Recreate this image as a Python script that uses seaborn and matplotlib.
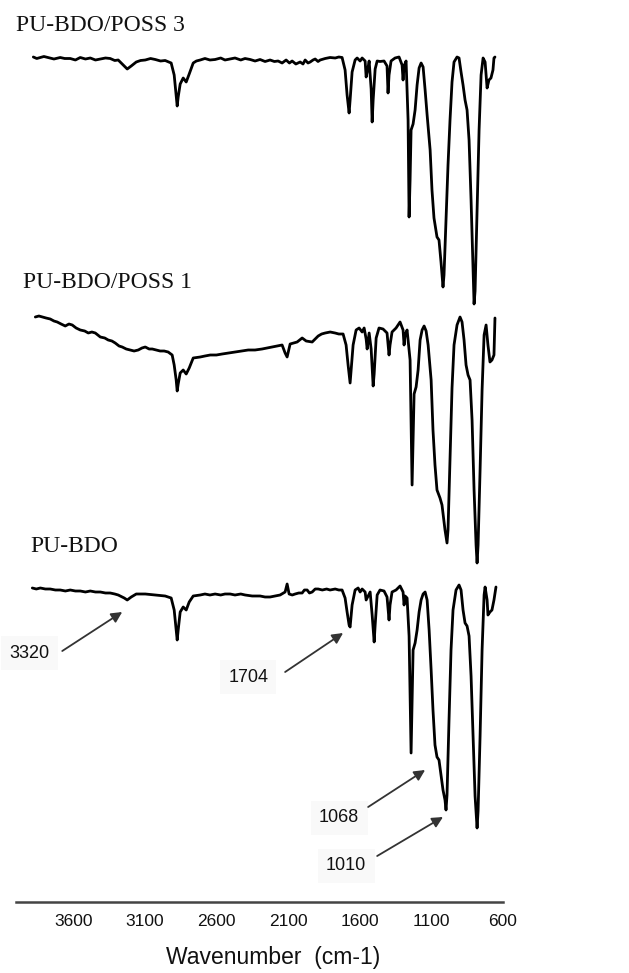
import numpy as np
import pandas as pd
import matplotlib
matplotlib.use("Agg")
import matplotlib.pyplot as plt
import seaborn as sns

# ---------------- data ----------------
# PU-BDO/POSS 3 : wavenumber (cm-1) and relative transmittance (%)
wn_poss3 = [3879, 3855, 3830, 3805, 3761, 3735, 3691, 3660, 3621, 3585, 3551, 3515, 3481, 3445,
            3411, 3375, 3342, 3310, 3286, 3251, 3223, 3195, 3160, 3130, 3097, 3060, 3027, 2990,
            2958, 2916, 2895, 2881, 2874, 2867, 2853, 2832, 2811, 2790, 2762, 2740, 2713, 2680,
            2645, 2609, 2570, 2540, 2504, 2470, 2430, 2400, 2364, 2330, 2295, 2260, 2225, 2195,
            2169, 2141, 2113, 2090, 2071, 2045, 2015, 1995, 1980, 1960, 1945, 1925, 1910, 1890,
            1875, 1840, 1806, 1770, 1745, 1722,
            1701, 1687, 1673, 1666, 1652, 1631, 1617, 1596, 1582, 1561, 1554, 1540, 1533,
            1519, 1512, 1505, 1491, 1477, 1457, 1429, 1408, 1401, 1394, 1380, 1352, 1324, 1303,
            1296, 1289, 1275, 1261, 1254, 1247, 1240, 1226, 1212, 1198, 1184, 1170, 1156, 1142,
            1128, 1107, 1094, 1080, 1059, 1045, 1031, 1017, 1010, 996, 982, 968, 954, 940, 919,
            905, 891, 877, 863, 849, 835, 821, 807, 800, 793, 779, 765, 751, 737, 723, 709, 696,
            682, 668, 661, 654]
t_poss3 = [100, 99.4, 99.8, 100.2, 99.6, 99.2, 99.8, 99.4, 99.4, 98.8, 99.8, 99.2, 99.6, 98.8,
           99.2, 99.6, 99.4, 98.6, 98.8, 96.8, 95.2, 96.4, 98, 98.6, 98.8, 99.4, 99, 98.4,
           98.6, 97.6, 92.8, 84.4, 80.4, 84, 89.2, 91.6, 90, 93.2, 97.6, 98.4, 98.8, 99.4,
           98.8, 99, 99.6, 98.8, 99.2, 99.6, 98.8, 99.4, 99, 98.4, 99, 98.2, 98.8, 98.2,
           98.4, 97.6, 98.8, 97.6, 98.4, 97.2, 98, 97.2, 98.8, 97.6, 98, 98.8, 99.2, 98.2,
           98.8, 99.4, 99.8, 99.6, 100, 99.8,
           94.8, 84.8, 77.6, 82.8, 94, 98.8, 99.6, 98.4, 99.6, 98.4, 92, 96, 98.4,
           87.2, 74, 82.8, 95.2, 98.4, 98.2, 98.4, 96.4, 85.6, 92.8, 98.4, 99.6, 100, 96.8,
           90.8, 96.4, 98.4, 74.8, 36, 50.8, 70.8, 73.2, 78.8, 88.8, 95.6, 97.6, 96, 86.8,
           76.8, 62.8, 46.8, 35.6, 28, 26.8, 18, 8, 12.8, 34.8, 56.8, 74.8, 90, 98, 100,
           99.6, 94, 88.8, 82.8, 78.8, 66.8, 42.8, 14.8, 1.2, 6.4, 38.8, 70.8, 92.8, 99.6, 98, 87.6, 90.8,
           91.6, 94.8, 99.6, 100]

# PU-BDO/POSS 1
wn_poss1 = [3865, 3840, 3816, 3790, 3761, 3735, 3712, 3685, 3656, 3630, 3607, 3580, 3551, 3520,
            3495, 3470, 3446, 3411, 3380, 3356, 3330, 3307, 3280, 3258, 3230, 3202, 3175, 3146,
            3120, 3097, 3070, 3048, 3020, 2993, 2965, 2937,
            2909, 2895, 2881, 2874, 2867, 2853, 2832, 2811, 2790, 2762, 2713,
            2680, 2643, 2600, 2560, 2515, 2469, 2420, 2378, 2330, 2281, 2245, 2211, 2175, 2141,
            2120, 2106, 2085, 2036, 2001, 1973, 1931,
            1910, 1889, 1865, 1840, 1805, 1771, 1745, 1715,
            1694, 1680, 1666, 1659, 1645, 1624, 1603, 1582, 1568, 1554, 1547, 1533, 1519, 1505,
            1498, 1484, 1464, 1436, 1408, 1394, 1387, 1373, 1345, 1317, 1296, 1289, 1282, 1268,
            1247, 1233, 1226, 1219, 1205, 1191, 1177, 1163, 1149, 1135, 1121, 1100, 1087, 1073,
            1059, 1038, 1024, 1003, 989, 982, 968, 954, 940, 919, 898, 884, 870, 856, 842, 828,
            814, 800, 786, 779, 772, 758, 744, 730, 716, 703, 689, 675, 661, 654]
t_poss1 = [100, 100.4, 100, 99.6, 99.2, 98.4, 98, 97.2, 96.4, 97.2, 96.8, 95.6, 94.8, 94.4,
           93.6, 94, 93.6, 92, 91.6, 90.8, 90.4, 89.6, 88.4, 88, 87.2, 86.8, 86.4, 86.8,
           87.6, 88, 87.2, 87.2, 86.8, 86.4, 86.4, 86,
           84.8, 80.8, 74.8, 70.4, 73.2, 77.6, 78.8, 77.2, 79.6, 83.6, 84,
           84.4, 84.8, 84.8, 85.2, 85.6, 86, 86.4, 86.8, 86.8, 87.2, 87.6, 88, 88.4, 88.8,
           85.6, 84, 89.2, 90, 91.6, 90.4, 90,
           91.2, 92.4, 93.2, 93.6, 94, 93.6, 93.2, 93.2,
           88.8, 80.8, 73.6, 78.8, 88.8, 94.8, 95.6, 94, 95.6, 91.2, 87.2, 93.6, 87.2, 72.4,
           77.2, 91.6, 95.6, 95.2, 93.6, 84.8, 88.8, 94, 95.6, 98, 94.8, 88.8, 92.8, 94.8,
           82.8, 32.8, 50.8, 69.2, 72, 78.8, 90.8, 94.8, 96.4, 94.4, 88.8, 74.8, 54.8, 40.8,
           30.8, 27.6, 24.8, 14.8, 9.6, 14.8, 42.8, 71.6, 88.8, 96.8, 100, 98, 90.8, 80.8, 76.8, 74.8,
           58.8, 30.8, 8.8, 1.6, 8.8, 38.8, 70.8, 92.8, 96.8, 88.8, 82, 82.8, 84.8, 99.6]

# PU-BDO
wn_bdo = [3886, 3858, 3830, 3795, 3761, 3725, 3691, 3655, 3621, 3585, 3551, 3515, 3481, 3445,
          3411, 3375, 3342, 3310, 3286,
          3244, 3223, 3195, 3160, 3097, 3027, 2958, 2916, 2895, 2881, 2874, 2867, 2853, 2832,
          2811, 2790, 2762, 2713,
          2680, 2645, 2609, 2570, 2540, 2504, 2470, 2430, 2399, 2350, 2295, 2260, 2225, 2190,
          2155, 2120, 2106, 2092, 2070, 2050, 2025, 2001, 1985, 1966, 1950, 1931, 1910, 1889,
          1860, 1830, 1806, 1770, 1745, 1722,
          1701, 1687, 1673, 1666, 1652, 1631, 1610, 1596, 1582, 1561, 1554, 1540,
          1526, 1512, 1498, 1491, 1477, 1457, 1429, 1408, 1394, 1387, 1373, 1345, 1317, 1296,
          1289, 1282, 1268, 1254, 1240, 1233, 1226, 1212, 1198, 1184, 1170, 1156, 1142, 1128,
          1114, 1100, 1087, 1073, 1059, 1045, 1031, 1017, 1003, 996, 989, 975, 961, 947, 926,
          905, 891, 877, 863, 849, 835, 821, 807, 793, 779, 772, 758, 744, 730, 723, 709, 703,
          689, 675, 661, 647]
t_bdo = [100, 99.6, 100, 99.6, 99.6, 99.2, 99.2, 98.8, 99.2, 98.8, 98.8, 98.4, 98.8, 98.4,
         98.4, 98, 98, 97.6, 97.2,
         96, 95.2, 96.4, 97.6, 97.6, 97.2, 96.8, 96, 91.2, 83.2, 79.2, 83.2, 90.4, 92.4,
         91.2, 94.4, 96.8, 97.2,
         97.6, 97.2, 97.6, 97.2, 97.6, 97.6, 97.2, 97.6, 97.2, 96.8, 96.8, 96.4, 96.4, 96.8,
         97.2, 98.4, 101.6, 97.6, 97.2, 97.6, 98, 98, 99.2, 99.2, 98, 98.4, 99.6, 99.6,
         99.2, 99.6, 99.2, 99.6, 99.2, 99.2,
         96, 90.4, 85.2, 84.4, 93.2, 99.2, 100, 98.4, 99.6, 98.4, 95.2, 96.8,
         98.4, 89.2, 78.4, 85.2, 97.2, 99.2, 98.8, 96.4, 87.2, 93.2, 98.4, 99.2, 100.8, 98.4,
         93.2, 96.8, 96, 80.8, 34, 55.2, 75.2, 78, 83.2, 90.4, 95.2, 97.6, 98.4, 95.2,
         83.2, 67.2, 51.2, 37.2, 32.4, 31.2, 25.2, 19.2, 15.2, 11.2, 17.2, 47.2, 75.2, 91.2, 99.2,
         101.2, 99.2, 91.2, 86, 84.8, 80.8, 64.8, 40.8, 16.8, 4, 10.8, 40.8, 75.2, 97.2, 100.4, 95.2, 89.2,
         90.4, 91.2, 95.2, 100.4]

series_names = ["PU-BDO/POSS 3", "PU-BDO/POSS 1", "PU-BDO"]
offsets = [238, 134, 25.6]          # vertical stacking of the spectra
tick_values = [3600, 3100, 2600, 2100, 1600, 1100, 600]
peak_labels = ["3320", "1704", "1068", "1010"]

for a, b in [(wn_poss3, t_poss3), (wn_poss1, t_poss1), (wn_bdo, t_bdo)]:
    if len(a) != len(b):
        raise ValueError(f"length mismatch {len(a)} vs {len(b)}")

# ---------------- figure ----------------
sns.set_style("white")
plt.rcParams["font.family"] = ["Liberation Sans", "DejaVu Sans"]

W, H = 629, 973
fig = plt.figure(figsize=(W / 100, H / 100), dpi=100)
ax = fig.add_axes([16 / W, 71 / H, (502.7 - 16) / W, 902 / H])

frames = []
for name, wn, t, off in zip(series_names, [wn_poss3, wn_poss1, wn_bdo],
                            [t_poss3, t_poss1, t_bdo], offsets):
    frames.append(pd.DataFrame({"wavenumber": wn,
                                "signal": np.asarray(t) + off,
                                "sample": name}))
df = pd.concat(frames, ignore_index=True)

sns.lineplot(data=df, x="wavenumber", y="signal", units="sample", estimator=None,
             color="black", linewidth=2.0, sort=False, ax=ax)
for ln in ax.get_lines():
    ln.set_solid_joinstyle("round")

ax.set_xlim(4000, 600)
ax.set_ylim(0, 902 / 2.5)

for s in ["left", "right", "top"]:
    ax.spines[s].set_visible(False)
ax.spines["bottom"].set_color("#444444")
ax.spines["bottom"].set_linewidth(1.8)
ax.set_yticks([])
ax.set_ylabel("")
ax.set_xticks(tick_values)
ax.set_xticklabels([str(v) for v in tick_values])
ax.tick_params(axis="x", direction="in", length=4, width=1.4, color="#444444",
               pad=9, labelsize=12.5, labelcolor="#111111")

ax.set_xlabel("Wavenumber  (cm-1)", fontsize=16.5, color="#111111")
ax.xaxis.set_label_coords((273.5 - 16) / (502.7 - 16), -(946 - 902) / 902)
ax.xaxis.label.set_va("top")

# sample names
serif = ["Liberation Serif", "DejaVu Serif"]
name_pos = [(4000, 350.6), (3949, 247.6), (3900, 142)]
for name, (x, y) in zip(series_names, name_pos):
    ax.text(x, y, name, family=serif, fontsize=17, ha="left", va="center", color="#111111")

# peak annotations
text_pos = [(3907, 99.6), (2378, 90), (1743, 33.6), (1694, 14.4)]
tails = [(3677, 100.4), (2120, 92), (1540, 38), (1477, 18.4)]
tips = [(3258, 116), (1715, 107.6), (1142, 52.8), (1017, 34)]
for lab, tp, tl, tip in zip(peak_labels, text_pos, tails, tips):
    ax.text(tp[0], tp[1], lab, fontsize=13, ha="center", va="center", color="#111111",
            bbox=dict(facecolor="#f9f9f9", edgecolor="none", pad=6))
    ax.annotate("", xy=tip, xytext=tl,
                arrowprops=dict(arrowstyle="-|>", color="#333333", lw=1.3,
                                mutation_scale=16, shrinkA=0, shrinkB=0))

fig.savefig("out.png", dpi=100, facecolor="white")
